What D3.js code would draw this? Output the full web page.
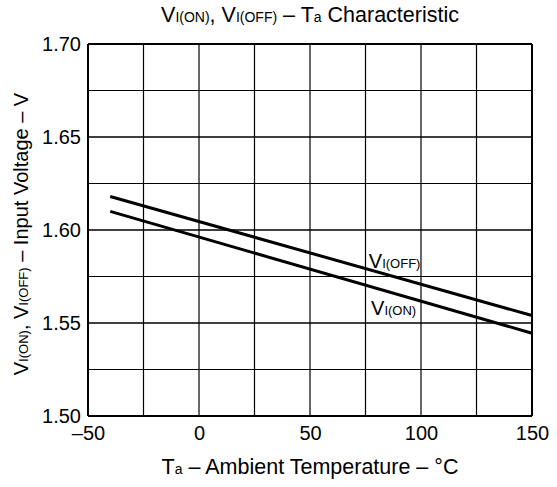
<!DOCTYPE html>
<html>
<head>
<meta charset="UTF-8">
<title>VI(ON), VI(OFF) - Ta Characteristic</title>
<style>
  body { margin: 0; background: #fff; }
  text { font-family: "Liberation Sans", Arial, sans-serif; fill: #000; }
  .grid line { stroke: #000; }
  .domain { display: none; }
</style>
<script src="https://d3js.org/d3.v7.min.js"></script>
</head>
<body>
<script>
// data
var temps = [-40, 150];
var vOff = [1.618, 1.554];
var vOn = [1.610, 1.5445];
var xTicks = [-50, 0, 50, 100, 150];
var yTicks = [1.50, 1.55, 1.60, 1.65, 1.70];

var W = 557, H = 487;
var margin = {top: 44, right: 25, bottom: 71, left: 88};
var width = W - margin.left - margin.right,
    height = H - margin.top - margin.bottom;

var svg = d3.select("body").append("svg")
  .attr("width", W).attr("height", H);

var g = svg.append("g")
  .attr("transform", "translate(" + margin.left + "," + margin.top + ")");

var x = d3.scaleLinear().domain([-50, 150]).range([0, width]);
var y = d3.scaleLinear().domain([1.50, 1.70]).range([height, 0]);

// grid: every 25 degC and every 0.025 V
var grid = g.append("g").attr("class", "grid");
grid.selectAll(".vx").data(d3.range(-50, 151, 25)).enter().append("line")
  .attr("x1", function(d) { return x(d); }).attr("x2", function(d) { return x(d); })
  .attr("y1", 0).attr("y2", height)
  .attr("stroke-width", function(d) { return (d === -50 || d === 150) ? 2 : 1.2; });
grid.selectAll(".hy").data(d3.range(0, 9).map(function(i) { return 1.50 + i * 0.025; })).enter().append("line")
  .attr("y1", function(d) { return y(d); }).attr("y2", function(d) { return y(d); })
  .attr("x1", 0).attr("x2", width)
  .attr("stroke-width", function(d, i) { return (i === 0 || i === 8) ? 2 : (i % 2 === 0 ? 1.5 : 1.2); });

// axes (labels only)
var xAxis = d3.axisBottom(x).tickValues(xTicks).tickSize(0).tickPadding(10)
  .tickFormat(function(d) { return d < 0 ? "\u2013" + Math.abs(d) : d; });
g.append("g").attr("transform", "translate(0," + height + ")").call(xAxis)
  .selectAll("text").style("font-size", "20px");

var yAxis = d3.axisLeft(y).tickValues(yTicks).tickSize(0).tickPadding(7)
  .tickFormat(d3.format(".2f"));
g.append("g").call(yAxis)
  .selectAll("text").style("font-size", "20px");

g.selectAll(".tick line").remove();

// curves
var line = d3.line()
  .x(function(d) { return x(d[0]); })
  .y(function(d) { return y(d[1]); });

[vOff, vOn].forEach(function(s) {
  g.append("path")
    .datum(temps.map(function(t, i) { return [t, s[i]]; }))
    .attr("d", line)
    .attr("fill", "none")
    .attr("stroke", "#000")
    .attr("stroke-width", 3);
});

// helper: V with small subscript
function subText(sel, parts) {
  parts.forEach(function(p) {
    sel.append("tspan").text(p[0]).style("font-size", p[1] + "px");
  });
  return sel;
}

// curve labels
subText(g.append("text").attr("x", x(76.5)).attr("y", y(1.5796)), [["V", 20], ["I(OFF)", 13]]);
subText(g.append("text").attr("x", x(77.5)).attr("y", y(1.5543)), [["V", 20], ["I(ON)", 13]]);

// title
subText(svg.append("text").attr("x", 310).attr("y", 22).attr("text-anchor", "middle"),
  [["V", 21.5], ["I(ON)", 14], [", V", 21.5], ["I(OFF)", 14], [" \u2013 T", 21.5], ["a", 14], [" Characteristic", 21.5]]);

// x title
subText(svg.append("text").attr("x", 310).attr("y", 474).attr("text-anchor", "middle"),
  [["T", 21.5], ["a", 14], [" \u2013 Ambient Temperature \u2013 \u00B0C", 21.5]]);

// y title
subText(svg.append("text").attr("transform", "translate(28," + (margin.top + height / 2 + 4) + ") rotate(-90)")
  .attr("text-anchor", "middle"),
  [["V", 20], ["I(ON)", 13], [", V", 20], ["I(OFF)", 13], [" \u2013 Input Voltage \u2013 V", 20]]);
</script>
</body>
</html>
